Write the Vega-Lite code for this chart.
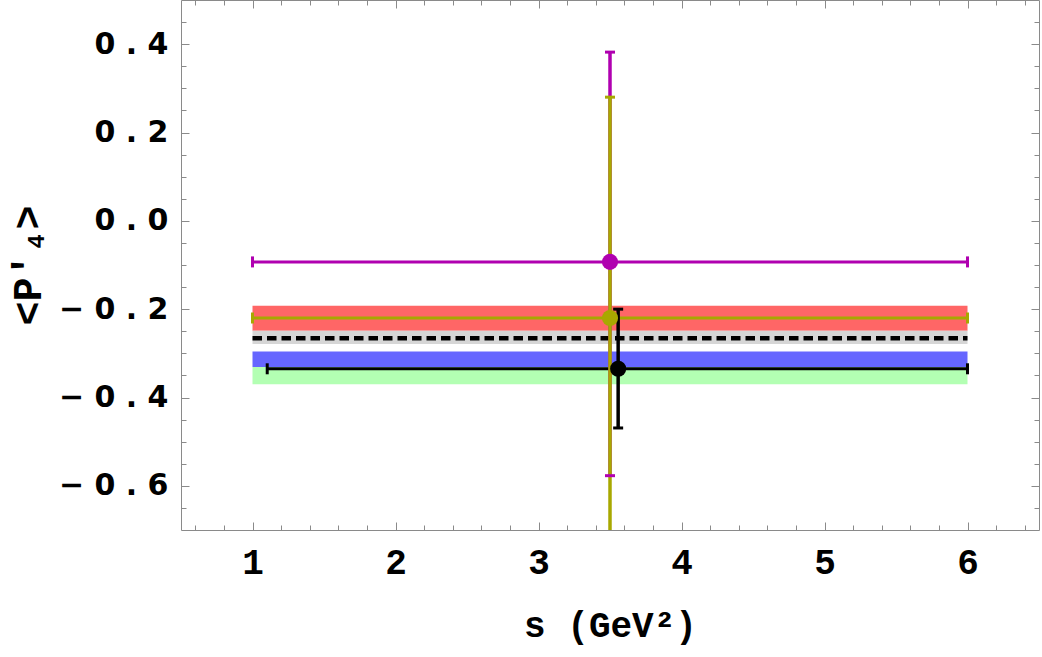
{
  "$schema": "https://vega.github.io/schema/vega-lite/v6.json",
  "width": 858,
  "height": 530,
  "autosize": "none",
  "padding": {"left": 181, "top": 0, "right": 3, "bottom": 127},
  "background": "white",
  "config": {
    "view": {"stroke": null},
    "axis": {
      "grid": false,
      "domainColor": "#8a8a8a",
      "tickColor": "#8a8a8a",
      "tickWidth": 1,
      "labelFont": "DejaVu Sans",
      "labelFontWeight": "bold",
      "labelFontSize": 30,
      "labelColor": "black",
      "titleFont": "Liberation Mono",
      "titleFontWeight": "bold",
      "titleFontSize": 36,
      "titleColor": "black"
    }
  },
  "datasets": {
    "bands": [
      {"band": "red", "xs": 1, "xe": 6, "lo": -0.1925, "hi": -0.249},
      {"band": "gray", "xs": 1, "xe": 6, "lo": -0.249, "hi": -0.279},
      {"band": "blue", "xs": 1, "xe": 6, "lo": -0.296, "hi": -0.331},
      {"band": "green", "xs": 1, "xe": 6, "lo": -0.331, "hi": -0.370}
    ],
    "central": [{"xs": 1, "xe": 6, "y": -0.2656}],
    "points": [
      {"series": "magenta", "x": 3.5, "xlo": 1, "xhi": 6, "y": -0.093, "ylo": -0.577, "yhi": 0.382},
      {"series": "olive", "x": 3.5, "xlo": 1, "xhi": 6, "y": -0.22, "ylo": -0.72, "yhi": 0.28},
      {"series": "black", "x": 3.557, "xlo": 1.103, "xhi": 6, "y": -0.335, "ylo": -0.469, "yhi": -0.2}
    ]
  },
  "resolve": {"axis": {"x": "independent", "y": "independent"}, "scale": {"color": "independent"}},
  "layer": [
    {
      "data": {"name": "bands"},
      "mark": {"type": "rect"},
      "encoding": {
        "x": {
          "field": "xs", "type": "quantitative",
          "scale": {"domain": [0.5, 6.5], "nice": false, "zero": false},
          "axis": {
            "orient": "bottom", "values": [1, 2, 3, 4, 5, 6], "tickSize": -8,
            "labelFont": "Liberation Mono", "labelFontSize": 36,
            "labelPadding": 23, "title": "s (GeV²)", "titlePadding": 28
          }
        },
        "x2": {"field": "xe"},
        "y": {
          "field": "lo", "type": "quantitative",
          "scale": {"domain": [-0.7, 0.5], "nice": false, "zero": false},
          "axis": {
            "orient": "left", "values": [-0.6, -0.4, -0.2, 0, 0.2, 0.4], "tickSize": -8,
            "labelPadding": 21,
            "labelExpr": "replace(replace(format(datum.value, '.1f'), '.', ' . '), '−', '− ')",
            "title": "<P′₄>", "titleFontSize": 40, "titlePadding": 10
          }
        },
        "y2": {"field": "hi"},
        "color": {
          "field": "band", "type": "nominal", "legend": null,
          "scale": {"domain": ["red", "gray", "blue", "green"], "range": ["#ff6666", "#d6d6d6", "#6666ff", "#b3ffb3"]}
        }
      }
    },
    {
      "data": {"name": "central"},
      "mark": {"type": "rule", "color": "black", "strokeWidth": 4.5, "strokeDash": [9.5, 5]},
      "encoding": {
        "x": {
          "field": "xs", "type": "quantitative",
          "axis": {
            "orient": "bottom", "tickSize": -5, "labels": false, "domain": false, "title": null,
            "values": [0.6, 0.8, 1.2, 1.4, 1.6, 1.8, 2.2, 2.4, 2.6, 2.8, 3.2, 3.4, 3.6, 3.8, 4.2, 4.4, 4.6, 4.8, 5.2, 5.4, 5.6, 5.8, 6.2, 6.4]
          }
        },
        "x2": {"field": "xe"},
        "y": {
          "field": "y", "type": "quantitative",
          "axis": {
            "orient": "left", "tickSize": -5, "labels": false, "domain": false, "title": null,
            "values": [-0.65, -0.55, -0.5, -0.45, -0.35, -0.3, -0.25, -0.15, -0.1, -0.05, 0.05, 0.1, 0.15, 0.25, 0.3, 0.35, 0.45]
          }
        }
      }
    },
    {
      "data": {"name": "points"},
      "mark": {"type": "rule", "strokeWidth": 3},
      "encoding": {
        "x": {
          "field": "xlo", "type": "quantitative",
          "axis": {"orient": "top", "values": [1, 2, 3, 4, 5, 6], "tickSize": -8, "labels": false, "title": null}
        },
        "x2": {"field": "xhi"},
        "y": {
          "field": "y", "type": "quantitative",
          "axis": {"orient": "right", "values": [-0.6, -0.4, -0.2, 0, 0.2, 0.4], "tickSize": -8, "labels": false, "title": null}
        },
        "color": {
          "field": "series", "type": "nominal", "legend": null,
          "scale": {"domain": ["magenta", "olive", "black"], "range": ["#b000b0", "#a8a800", "#000000"]}
        }
      }
    },
    {
      "data": {"name": "points"},
      "mark": {"type": "rule", "strokeWidth": 3.5, "clip": true},
      "encoding": {
        "x": {
          "field": "x", "type": "quantitative",
          "axis": {
            "orient": "top", "tickSize": -5, "labels": false, "domain": false, "title": null,
            "values": [0.6, 0.8, 1.2, 1.4, 1.6, 1.8, 2.2, 2.4, 2.6, 2.8, 3.2, 3.4, 3.6, 3.8, 4.2, 4.4, 4.6, 4.8, 5.2, 5.4, 5.6, 5.8, 6.2, 6.4]
          }
        },
        "y": {
          "field": "ylo", "type": "quantitative",
          "axis": {
            "orient": "right", "tickSize": -5, "labels": false, "domain": false, "title": null,
            "values": [-0.65, -0.55, -0.5, -0.45, -0.35, -0.3, -0.25, -0.15, -0.1, -0.05, 0.05, 0.1, 0.15, 0.25, 0.3, 0.35, 0.45]
          }
        },
        "y2": {"field": "yhi"},
        "color": {
          "field": "series", "type": "nominal", "legend": null,
          "scale": {"domain": ["magenta", "olive", "black"], "range": ["#b000b0", "#a8a800", "#000000"]}
        }
      }
    },
    {
      "data": {"name": "points"},
      "transform": [{"fold": ["xlo", "xhi"], "as": ["end", "xpos"]}],
      "mark": {"type": "tick", "orient": "vertical", "size": 11, "thickness": 3, "opacity": 1},
      "encoding": {
        "x": {"field": "xpos", "type": "quantitative", "axis": null},
        "y": {"field": "y", "type": "quantitative", "axis": null},
        "color": {
          "field": "series", "type": "nominal", "legend": null,
          "scale": {"domain": ["magenta", "olive", "black"], "range": ["#b000b0", "#a8a800", "#000000"]}
        }
      }
    },
    {
      "data": {"name": "points"},
      "transform": [{"fold": ["ylo", "yhi"], "as": ["end", "ypos"]}],
      "mark": {"type": "tick", "orient": "horizontal", "size": 10, "thickness": 3, "opacity": 1, "clip": true},
      "encoding": {
        "x": {"field": "x", "type": "quantitative", "axis": null},
        "y": {"field": "ypos", "type": "quantitative", "axis": null},
        "color": {
          "field": "series", "type": "nominal", "legend": null,
          "scale": {"domain": ["magenta", "olive", "black"], "range": ["#b000b0", "#a8a800", "#000000"]}
        }
      }
    },
    {
      "data": {"name": "points"},
      "mark": {"type": "circle", "size": 260, "opacity": 1},
      "encoding": {
        "x": {"field": "x", "type": "quantitative", "axis": null},
        "y": {"field": "y", "type": "quantitative", "axis": null},
        "color": {
          "field": "series", "type": "nominal", "legend": null,
          "scale": {"domain": ["magenta", "olive", "black"], "range": ["#b000b0", "#a8a800", "#000000"]}
        },
        "order": {"field": "series", "sort": "ascending"}
      }
    }
  ]
}
